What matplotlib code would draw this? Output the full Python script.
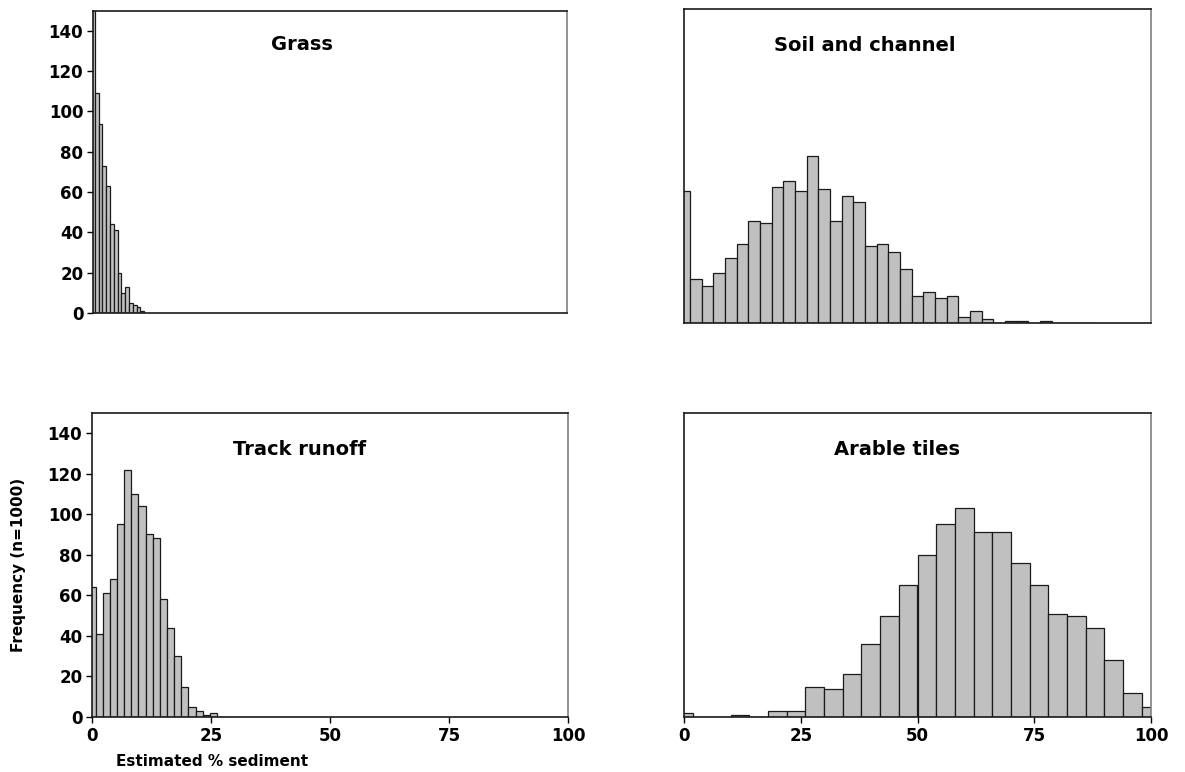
import matplotlib.pyplot as plt

# Histogram counts (n=1000) per bin, bins are centred on the listed values
grass_centres = [0.8 * i for i in range(14)]
grass_counts = [520, 109, 94, 73, 63, 44, 41, 20, 10, 13, 5, 4, 3, 1]

soil_centres = [2.5 * i for i in range(36)]
soil_counts = [63, 21, 18, 24, 31, 38, 49, 48, 65, 68, 63, 80, 64, 49, 61, 58,
               37, 38, 34, 26, 13, 15, 12, 13, 3, 6, 2, 0, 1, 1, 0, 1, 0, 0, 0, 0]

track_centres = [1.5 * i for i in range(20)]
track_counts = [64, 41, 61, 68, 95, 122, 110, 104, 90, 88, 58, 44, 30, 15, 5,
                3, 1, 2, 0, 0]

arable_centres = [4 * i for i in range(26)]
arable_counts = [2, 0, 0, 1, 0, 3, 3, 15, 14, 21, 36, 50, 65, 80, 95, 103, 91,
                 91, 76, 65, 51, 50, 44, 28, 12, 5]

x_ticks = [0, 25, 50, 75, 100]
y_ticks = [0, 20, 40, 60, 80, 100, 120, 140]

W, H = 1185, 772
fig = plt.figure(figsize=(W / 100, H / 100), dpi=100)


def panel(left, top, right, bottom):
    return fig.add_axes([left / W, 1 - bottom / H, (right - left) / W, (bottom - top) / H])


ax_grass = panel(93, 10.7, 567, 313)
ax_soil = panel(684, 9.3, 1151, 323.3)
ax_track = panel(92, 412.7, 568, 717)
ax_arable = panel(684, 412.7, 1151, 717)

panels = [
    (ax_grass, grass_centres, grass_counts, 0.8, 'Grass', (0.44, 0.887)),
    (ax_soil, soil_centres, soil_counts, 2.5, 'Soil and channel', (0.388, 0.885)),
    (ax_track, track_centres, track_counts, 1.5, 'Track runoff', (0.437, 0.878)),
    (ax_arable, arable_centres, arable_counts, 4.0, 'Arable tiles', (0.456, 0.88)),
]

for ax, centres, counts, width, title, pos in panels:
    ax.bar(centres, counts, width=width, color='#c0c0c0', edgecolor='#1a1a1a',
           linewidth=0.9, align='center')
    ax.set_xlim(0, 100)
    ax.set_ylim(0, 150)
    ax.text(pos[0], pos[1], title, transform=ax.transAxes, ha='center', va='center',
            fontsize=14, fontweight='bold')
    for s in ax.spines.values():
        s.set_color('#1a1a1a')
        s.set_linewidth(1.2)
    ax.spines['right'].set_color('#808080')
    ax.tick_params(direction='out', length=4, width=1, pad=3, labelsize=12)

# axis ticks and labels only where the panels carry them
for ax in (ax_grass, ax_track):
    ax.set_yticks(y_ticks)
    ax.set_yticklabels([str(v) for v in y_ticks], fontweight='bold')
for ax in (ax_soil, ax_arable):
    ax.set_yticks([])
for ax in (ax_track, ax_arable):
    ax.set_xticks(x_ticks)
    ax.set_xticklabels([str(v) for v in x_ticks], fontweight='bold')
for ax in (ax_grass, ax_soil):
    ax.set_xticks([])

ax_track.set_ylabel('Frequency (n=1000)', fontsize=11, fontweight='bold')
ax_track.yaxis.set_label_coords(-0.138, 0.5)
ax_track.set_xlabel('Estimated % sediment', fontsize=11, fontweight='bold')
ax_track.xaxis.set_label_coords(0.252, -0.12)

fig.savefig('out.png', dpi=100)
